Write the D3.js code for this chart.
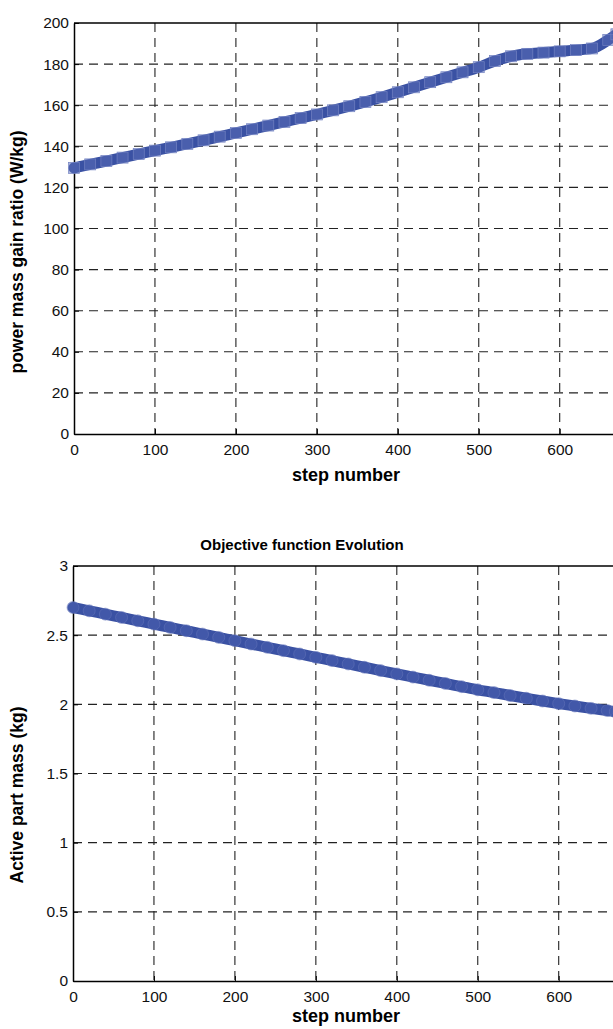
<!DOCTYPE html>
<html>
<head>
<meta charset="utf-8">
<script src="https://cdn.jsdelivr.net/npm/d3@7"></script>
<style>
  body { margin: 0; background: #fff; }
  svg { display: block; font-family: "Liberation Sans", Arial, sans-serif; }
</style>
</head>
<body>
<svg id="chart"></svg>
<script>
// step numbers (read every 20 steps)
const steps = [0, 20, 40, 60, 80, 100, 120, 140, 160, 180, 200, 220, 240, 260, 280, 300, 320,
  340, 360, 380, 400, 420, 440, 460, 480, 500, 520, 540, 560, 580, 600, 620, 640, 660, 670]

// power mass gain ratio (W/kg)
const powerRatio = [129.5, 131.2, 132.8, 134.5, 136.2, 137.9, 139.5, 141.2, 142.9, 144.7, 146.5,
  148.3, 150.1, 151.9, 153.7, 155.5, 157.5, 159.5, 161.6, 163.9, 166.3, 168.7, 171.2, 173.6,
  176.0, 178.5, 181.5, 183.8, 185.0, 185.6, 186.2, 186.8, 187.6, 191.8, 194.5]

// active part mass (kg)
const activeMass = [2.700, 2.676, 2.652, 2.628, 2.604, 2.580, 2.556, 2.532, 2.508, 2.484, 2.460,
  2.436, 2.412, 2.388, 2.364, 2.340, 2.316, 2.292, 2.268, 2.244, 2.220, 2.197, 2.174, 2.151,
  2.128, 2.105, 2.085, 2.064, 2.044, 2.024, 2.005, 1.988, 1.971, 1.955, 1.947]

const xTicks = [0, 100, 200, 300, 400, 500, 600]
const yTicksTop = [0, 20, 40, 60, 80, 100, 120, 140, 160, 180, 200]
const yTicksBottom = [0, 0.5, 1, 1.5, 2, 2.5, 3]

const
    svgWidth = 613,
    svgHeight = 1029,
    LINE_COLOR = '#3a51a3'

let svg = d3.select('#chart')
    .attr('width', svgWidth)
    .attr('height', svgHeight)

function panel(opts) {
    let x = d3.scaleLinear().domain([0, 700]).range([opts.left, opts.left + 700 * 0.8095])
    let y = d3.scaleLinear().domain(opts.yDomain).range([opts.bottom, opts.top])

    let g = svg.append('g')

    // grid
    g.append('g').selectAll('line')
        .data(opts.xTicks.slice(1))
        .enter().append('line')
        .attr('x1', d => x(d)).attr('x2', d => x(d))
        .attr('y1', opts.top).attr('y2', opts.bottom)
        .attr('stroke', '#222').attr('stroke-width', 1.1)
        .attr('stroke-dasharray', '9,6')
    g.append('g').selectAll('line')
        .data(opts.yTicks.slice(1, -1))
        .enter().append('line')
        .attr('x1', opts.left).attr('x2', svgWidth)
        .attr('y1', d => y(d)).attr('y2', d => y(d))
        .attr('stroke', '#222').attr('stroke-width', 1.1)
        .attr('stroke-dasharray', '9,6')

    // axes with inward ticks
    let xAxis = d3.axisBottom(x).tickValues(opts.xTicks).tickSizeInner(-5).tickSizeOuter(0).tickPadding(10)
    let yAxis = d3.axisLeft(y).tickValues(opts.yTicks).tickFormat(d3.format('~g'))
        .tickSizeInner(-5).tickSizeOuter(0).tickPadding(5)

    let gx = g.append('g')
        .attr('transform', `translate(0, ${opts.bottom})`)
        .call(xAxis)
    let gy = g.append('g')
        .attr('transform', `translate(${opts.left}, 0)`)
        .call(yAxis)
    ;[gx, gy].forEach(a => {
        a.select('.domain').attr('stroke', '#000').attr('stroke-width', 1.5)
        a.selectAll('.tick line').attr('stroke', '#000')
        a.selectAll('.tick text').attr('fill', '#111').style('font-size', '15.5px')
    })
    // top border
    g.append('line')
        .attr('x1', opts.left).attr('x2', svgWidth)
        .attr('y1', opts.top).attr('y2', opts.top)
        .attr('stroke', '#000').attr('stroke-width', 1.5)

    // data
    let line = d3.line()
        .x((d, i) => x(steps[i]))
        .y(d => y(d))
        .curve(d3.curveMonotoneX)

    g.append('path')
        .datum(opts.values)
        .attr('d', line)
        .attr('fill', 'none')
        .attr('stroke', LINE_COLOR)
        .attr('stroke-width', 11)
        .attr('stroke-linecap', 'round')

    if (opts.marker === 'square') {
        g.append('g').selectAll('rect')
            .data(opts.values)
            .enter().append('rect')
            .attr('x', (d, i) => x(steps[i]) - 5.5)
            .attr('y', d => y(d) - 5.5)
            .attr('width', 11).attr('height', 11)
            .attr('fill', '#5a6db7').attr('fill-opacity', 0.5)
            .attr('stroke', '#7282c2').attr('stroke-width', 0.7)
    } else {
        g.append('g').selectAll('circle')
            .data(opts.values)
            .enter().append('circle')
            .attr('cx', (d, i) => x(steps[i]))
            .attr('cy', d => y(d))
            .attr('r', 6)
            .attr('fill', '#4a5faf').attr('fill-opacity', 0.5)
            .attr('stroke', '#6677bb').attr('stroke-width', 0.5)
    }

    // labels
    g.append('text')
        .attr('x', opts.xLabelX).attr('y', opts.xLabelY)
        .attr('text-anchor', 'middle')
        .style('font-size', '18px').style('font-weight', 'bold')
        .text('step number')
    g.append('text')
        .attr('transform', `translate(${opts.yLabelX}, ${opts.yLabelY}) rotate(-90)`)
        .attr('text-anchor', 'middle')
        .style('font-size', '17.5px').style('font-weight', 'bold')
        .text(opts.yLabel)
    if (opts.title) {
        g.append('text')
            .attr('x', opts.titleX).attr('y', opts.titleY)
            .attr('text-anchor', 'middle')
            .style('font-size', '15px').style('font-weight', 'bold')
            .text(opts.title)
    }
}

panel({
    left: 74, top: 23, bottom: 434,
    yDomain: [0, 200], yTicks: yTicksTop, xTicks: xTicks,
    values: powerRatio, marker: 'square',
    xLabelX: 346, xLabelY: 481,
    yLabelX: 23, yLabelY: 252, yLabel: 'power mass gain ratio (W/kg)'
})

panel({
    left: 73, top: 566, bottom: 981,
    yDomain: [0, 3], yTicks: yTicksBottom, xTicks: xTicks,
    values: activeMass, marker: 'circle',
    xLabelX: 346, xLabelY: 1022,
    yLabelX: 23, yLabelY: 795, yLabel: 'Active part mass (kg)',
    title: 'Objective function Evolution', titleX: 302, titleY: 550
})
</script>
</body>
</html>
